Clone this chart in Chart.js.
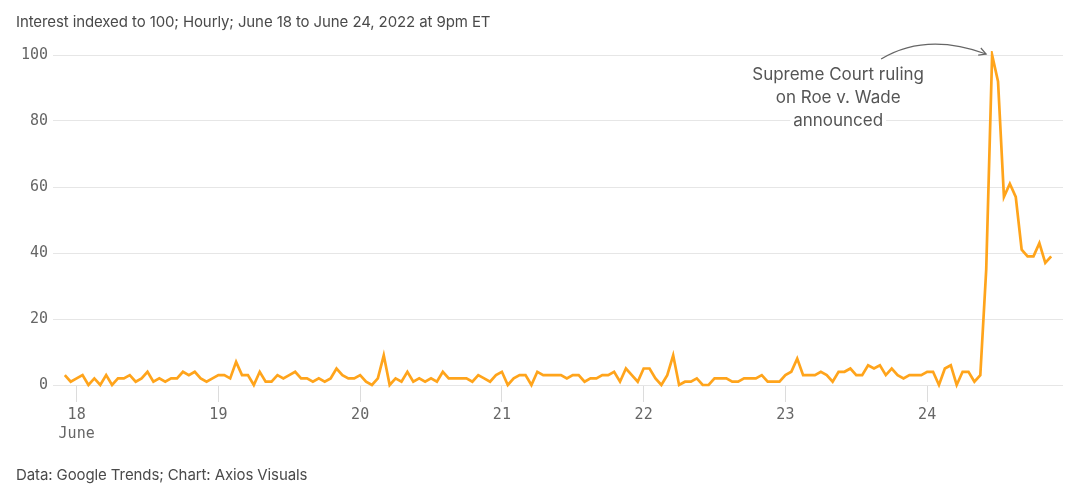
<!DOCTYPE html>
<html>
<head>
<meta charset="utf-8">
<script src="https://cdn.jsdelivr.net/npm/chart.js@4.4.0/dist/chart.umd.min.js"></script>
<style>
  html, body { margin: 0; padding: 0; background: #fff; }
  #wrap { position: relative; width: 1080px; height: 491px; }
  #c { position: absolute; left: 0; top: 0; }
  .txt { position: absolute; left: 16px; font-family: Inter, "Open Sans", sans-serif; font-size: 15px; color: #4a4a4a; white-space: nowrap; letter-spacing: -0.1px; }
  #title { top: 12px; }
  #footer { top: 465px; }
</style>
</head>
<body>
<div id="wrap">
  <canvas id="c" width="1080" height="491"></canvas>
  <div class="txt" id="title">Interest indexed to 100; Hourly; June 18 to June 24, 2022 at 9pm ET</div>
  <div class="txt" id="footer">Data: Google Trends; Chart: Axios Visuals</div>
</div>
<script>
// Hourly series, first point = June 17 22:00 (hour -2 relative to June 18 00:00)
const firstHour = -2;
const interest = [
  3,1,2,3,0,2,0,3,0,2,2,3,1,2,4,1,2,1,2,2,4,3,4,2,1,2,3,3,
  2,7,3,3,0,4,1,1,3,2,3,4,2,2,1,2,1,2,5,3,2,2,3,1,0,2,9,0,
  2,1,4,1,2,1,2,1,4,2,2,2,2,1,3,2,1,3,4,0,2,3,3,0,4,3,3,3,
  3,2,3,3,1,2,2,3,3,4,1,5,3,1,5,5,2,0,3,9,0,1,1,2,0,0,2,2,
  2,1,1,2,2,2,3,1,1,1,3,4,8,3,3,3,4,3,1,4,4,5,3,3,6,5,6,3,
  5,3,2,3,3,3,4,4,0,5,6,0,4,4,1,3,35,100,92,57,61,57,41,39,39,43,37,39
];
const dayLabels = ['18','19','20','21','22','23','24'];
const monthLabel = 'June';
const yTicks = [0,20,40,60,80,100];
const annotationLines = ['Supreme Court ruling','on Roe v. Wade','announced'];

const points = interest.map((v, i) => ({ x: firstHour + i, y: v }));

const annotationPlugin = {
  id: 'annot',
  afterDatasetsDraw(chart) {
    const { ctx, scales: { x, y } } = chart;
    const maxV = Math.max(...interest);
    const idx = interest.indexOf(maxV);
    const px = x.getPixelForValue(points[idx].x);
    const py = y.getPixelForValue(maxV);
    ctx.save();
    ctx.font = '17px Inter, "Open Sans", sans-serif';
    ctx.textAlign = 'center';
    ctx.textBaseline = 'middle';
    const cx = px - 154;
    annotationLines.forEach((t, i) => {
      const ly = py + 20 + i * 23;
      const w = ctx.measureText(t).width;
      ctx.fillStyle = '#fff';
      ctx.fillRect(cx - w / 2 - 3, ly - 10, w + 6, 20);
      ctx.fillStyle = '#555';
      ctx.fillText(t, cx, ly);
    });
    // arrow
    const sx = px - 111, sy = py + 4;
    const ex = px - 6, ey = py - 1;
    const qx = px - 66, qy = py - 23;
    ctx.strokeStyle = '#666';
    ctx.lineWidth = 1.2;
    ctx.beginPath();
    ctx.moveTo(sx, sy);
    ctx.quadraticCurveTo(qx, qy, ex, ey);
    ctx.stroke();
    const ang = Math.atan2(ey - qy, ex - qx);
    const L = 8;
    ctx.beginPath();
    ctx.moveTo(ex - L * Math.cos(ang - 0.5), ey - L * Math.sin(ang - 0.5));
    ctx.lineTo(ex, ey);
    ctx.lineTo(ex - L * Math.cos(ang + 0.5), ey - L * Math.sin(ang + 0.5));
    ctx.stroke();
    ctx.restore();
  }
};

new Chart(document.getElementById('c'), {
  type: 'line',
  data: {
    datasets: [{
      data: points,
      borderColor: '#ffa41b',
      borderWidth: 2.7,
      pointRadius: 0,
      tension: 0,
      clip: 4
    }]
  },
  options: {
    responsive: false,
    animation: false,
    layout: { padding: { left: 0, right: 17, top: 55, bottom: 0 } },
    plugins: { legend: { display: false }, tooltip: { enabled: false } },
    scales: {
      x: {
        type: 'linear',
        min: -4,
        max: 167,
        afterBuildTicks(axis) {
          axis.ticks = dayLabels.map((d, i) => ({ value: i * 24 }));
        },
        afterFit(axis) { axis.height = 106; },
        grid: { drawOnChartArea: false, drawTicks: true, tickLength: 17, color: '#dcdcdc' },
        border: { display: false },
        ticks: {
          padding: 4,
          maxRotation: 0,
          autoSkip: false,
          color: '#666',
          font: { family: '"DejaVu Sans Mono", monospace', size: 15, lineHeight: 1.25 },
          callback(value) {
            const i = Math.round(value / 24);
            return i === 0 ? [dayLabels[0], monthLabel] : dayLabels[i];
          }
        }
      },
      y: {
        min: 0,
        max: 100,
        afterBuildTicks(axis) { axis.ticks = yTicks.map(v => ({ value: v })); },
        afterFit(axis) { axis.width = 53; },
        grid: { drawTicks: false, color: '#e6e6e6', lineWidth: 1 },
        border: { display: false },
        ticks: {
          padding: 5,
          color: '#666',
          font: { family: '"DejaVu Sans Mono", monospace', size: 15 }
        }
      }
    }
  },
  plugins: [annotationPlugin]
});
</script>
</body>
</html>
